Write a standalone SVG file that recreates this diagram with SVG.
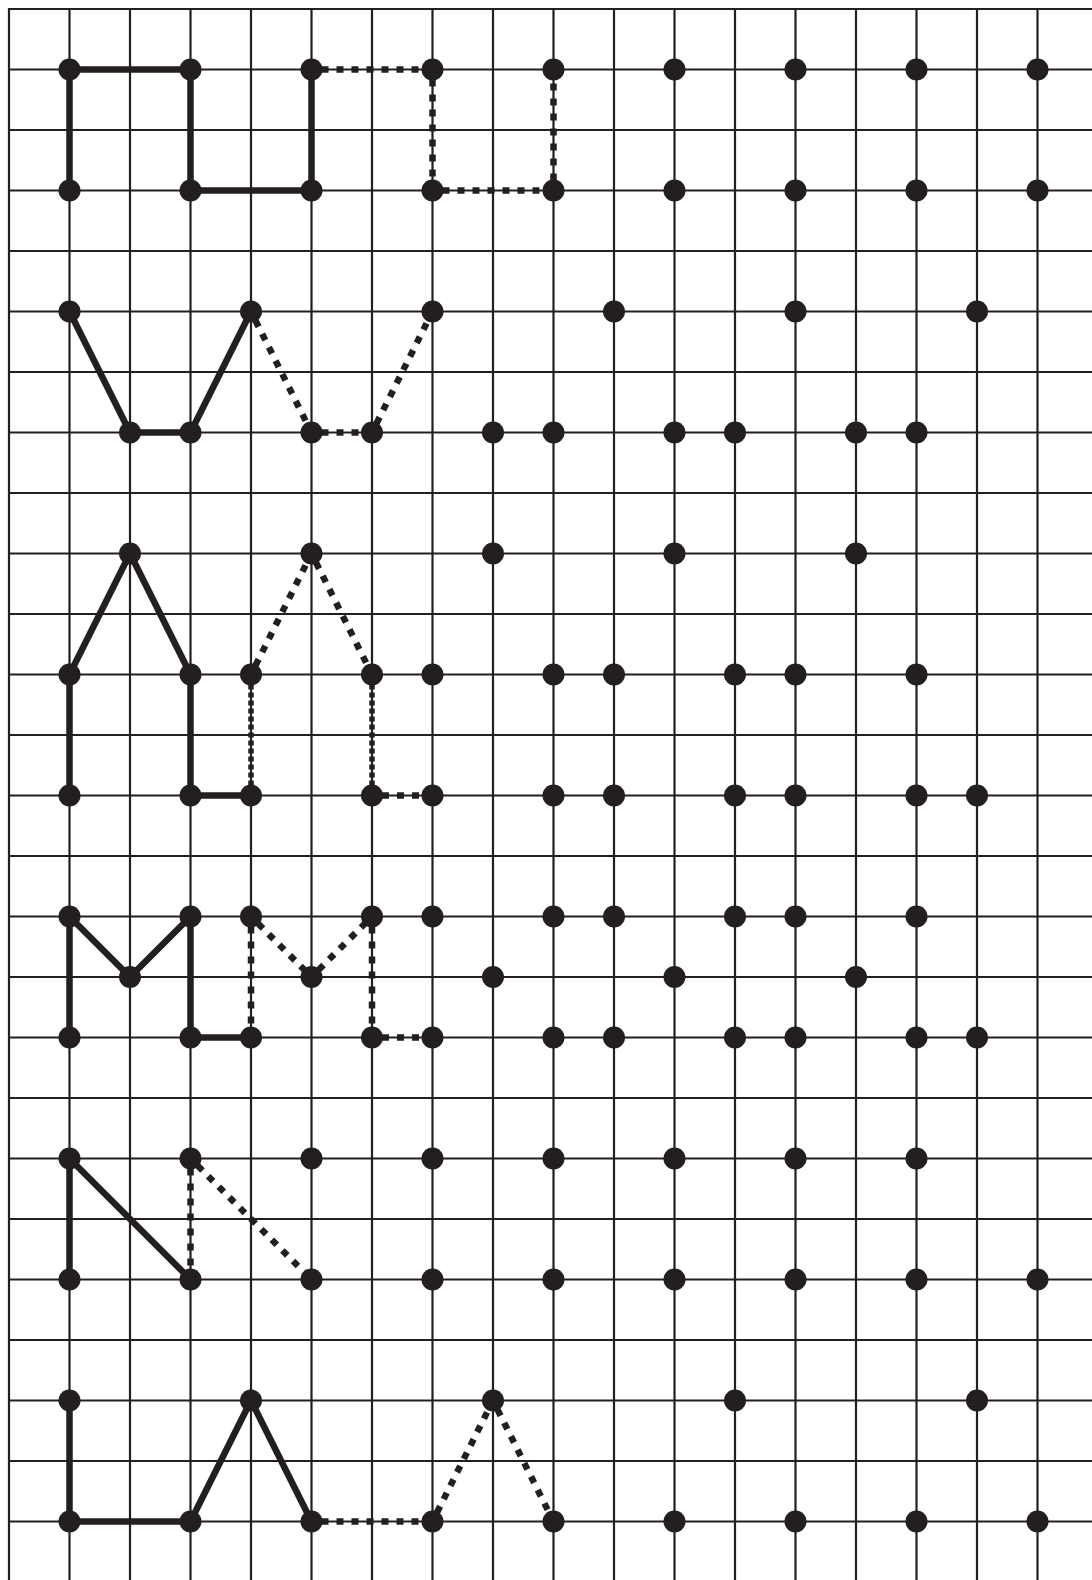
<svg xmlns="http://www.w3.org/2000/svg" width="1092" height="1580" viewBox="0 0 1092 1580">
<style>
.grid{stroke:#231f20;stroke-width:2.2;fill:none}
.solid{stroke:#231f20;stroke-width:6.5;fill:none;stroke-linecap:round;stroke-linejoin:round}
.dash{stroke:#231f20;stroke-width:6.5;fill:none;stroke-dasharray:7 8;stroke-dashoffset:-10}
.dashv{stroke:#231f20;stroke-width:5.5;fill:none;stroke-dasharray:5 3;stroke-dashoffset:-10}
.dot{fill:#231f20}
</style>
<rect width="1092" height="1580" fill="#ffffff"/>
<g id="grid" class="grid">
<path d="M9,8V1580M69.5,8V1580M130,8V1580M190.5,8V1580M251,8V1580M311.5,8V1580M372,8V1580M432.5,8V1580M493,8V1580M553.5,8V1580M614,8V1580M674.5,8V1580M735,8V1580M795.5,8V1580M856,8V1580M916.5,8V1580M977,8V1580M1037.5,8V1580"/>
<path d="M8,9H1092M8,69.5H1092M8,130H1092M8,190.5H1092M8,251H1092M8,311.5H1092M8,372H1092M8,432.5H1092M8,493H1092M8,553.5H1092M8,614H1092M8,674.5H1092M8,735H1092M8,795.5H1092M8,856H1092M8,916.5H1092M8,977H1092M8,1037.5H1092M8,1098H1092M8,1158.5H1092M8,1219H1092M8,1279.5H1092M8,1340H1092M8,1400.5H1092M8,1461H1092M8,1521.5H1092"/>
</g>
<g id="connectors">
<path class="solid" d="M69.5,190.5V69.5H190.5V190.5H311.5V69.5"/>
<path class="dash" d="M311.5,69.5H432.5"/>
<path class="dash" d="M432.5,69.5V190.5"/>
<path class="dash" d="M432.5,190.5H553.5"/>
<path class="dash" d="M553.5,190.5V69.5"/>
<path class="solid" d="M69.5,311.5L130,432.5H190.5L251,311.5"/>
<path class="dash" d="M251,311.5L311.5,432.5"/>
<path class="dash" d="M311.5,432.5H372"/>
<path class="dash" d="M372,432.5L432.5,311.5"/>
<path class="solid" d="M69.5,795.5V674.5L130,553.5L190.5,674.5V795.5H251"/>
<path class="dash" d="M251,674.5L311.5,553.5"/>
<path class="dash" d="M311.5,553.5L372,674.5"/>
<path class="dashv" d="M251,674.5V795.5"/>
<path class="dashv" d="M372,674.5V795.5"/>
<path class="dash" d="M372,795.5H432.5"/>
<path class="solid" d="M69.5,1037.5V916.5L130,977L190.5,916.5V1037.5H251"/>
<path class="dash" d="M251,916.5V1037.5"/>
<path class="dash" d="M251,916.5L311.5,977"/>
<path class="dash" d="M311.5,977L372,916.5"/>
<path class="dash" d="M372,916.5V1037.5"/>
<path class="dash" d="M372,1037.5H432.5"/>
<path class="solid" d="M69.5,1279.5V1158.5L190.5,1279.5"/>
<path class="dash" d="M190.5,1158.5V1279.5"/>
<path class="dash" d="M190.5,1158.5L311.5,1279.5"/>
<path class="solid" d="M69.5,1400.5V1521.5H190.5L251,1400.5L311.5,1521.5"/>
<path class="dash" d="M311.5,1521.5H432.5"/>
<path class="dash" d="M432.5,1521.5L493,1400.5"/>
<path class="dash" d="M493,1400.5L553.5,1521.5"/>
</g>
<g id="dots" class="dot">
<g id="row1">
<circle cx="69.5" cy="69.5" r="11"/><circle cx="190.5" cy="69.5" r="11"/><circle cx="311.5" cy="69.5" r="11"/><circle cx="432.5" cy="69.5" r="11"/><circle cx="553.5" cy="69.5" r="11"/><circle cx="674.5" cy="69.5" r="11"/><circle cx="795.5" cy="69.5" r="11"/><circle cx="916.5" cy="69.5" r="11"/><circle cx="1037.5" cy="69.5" r="11"/>
</g>
<g id="row3">
<circle cx="69.5" cy="190.5" r="11"/><circle cx="190.5" cy="190.5" r="11"/><circle cx="311.5" cy="190.5" r="11"/><circle cx="432.5" cy="190.5" r="11"/><circle cx="553.5" cy="190.5" r="11"/><circle cx="674.5" cy="190.5" r="11"/><circle cx="795.5" cy="190.5" r="11"/><circle cx="916.5" cy="190.5" r="11"/><circle cx="1037.5" cy="190.5" r="11"/>
</g>
<g id="row5">
<circle cx="69.5" cy="311.5" r="11"/><circle cx="251" cy="311.5" r="11"/><circle cx="432.5" cy="311.5" r="11"/><circle cx="614" cy="311.5" r="11"/><circle cx="795.5" cy="311.5" r="11"/><circle cx="977" cy="311.5" r="11"/>
</g>
<g id="row7">
<circle cx="130" cy="432.5" r="11"/><circle cx="190.5" cy="432.5" r="11"/><circle cx="311.5" cy="432.5" r="11"/><circle cx="372" cy="432.5" r="11"/><circle cx="493" cy="432.5" r="11"/><circle cx="553.5" cy="432.5" r="11"/><circle cx="674.5" cy="432.5" r="11"/><circle cx="735" cy="432.5" r="11"/><circle cx="856" cy="432.5" r="11"/><circle cx="916.5" cy="432.5" r="11"/>
</g>
<g id="row9">
<circle cx="130" cy="553.5" r="11"/><circle cx="311.5" cy="553.5" r="11"/><circle cx="493" cy="553.5" r="11"/><circle cx="674.5" cy="553.5" r="11"/><circle cx="856" cy="553.5" r="11"/>
</g>
<g id="row11">
<circle cx="69.5" cy="674.5" r="11"/><circle cx="190.5" cy="674.5" r="11"/><circle cx="251" cy="674.5" r="11"/><circle cx="372" cy="674.5" r="11"/><circle cx="432.5" cy="674.5" r="11"/><circle cx="553.5" cy="674.5" r="11"/><circle cx="614" cy="674.5" r="11"/><circle cx="735" cy="674.5" r="11"/><circle cx="795.5" cy="674.5" r="11"/><circle cx="916.5" cy="674.5" r="11"/>
</g>
<g id="row13">
<circle cx="69.5" cy="795.5" r="11"/><circle cx="190.5" cy="795.5" r="11"/><circle cx="251" cy="795.5" r="11"/><circle cx="372" cy="795.5" r="11"/><circle cx="432.5" cy="795.5" r="11"/><circle cx="553.5" cy="795.5" r="11"/><circle cx="614" cy="795.5" r="11"/><circle cx="735" cy="795.5" r="11"/><circle cx="795.5" cy="795.5" r="11"/><circle cx="916.5" cy="795.5" r="11"/><circle cx="977" cy="795.5" r="11"/>
</g>
<g id="row15">
<circle cx="69.5" cy="916.5" r="11"/><circle cx="190.5" cy="916.5" r="11"/><circle cx="251" cy="916.5" r="11"/><circle cx="372" cy="916.5" r="11"/><circle cx="432.5" cy="916.5" r="11"/><circle cx="553.5" cy="916.5" r="11"/><circle cx="614" cy="916.5" r="11"/><circle cx="735" cy="916.5" r="11"/><circle cx="795.5" cy="916.5" r="11"/><circle cx="916.5" cy="916.5" r="11"/>
</g>
<g id="row16">
<circle cx="130" cy="977" r="11"/><circle cx="311.5" cy="977" r="11"/><circle cx="493" cy="977" r="11"/><circle cx="674.5" cy="977" r="11"/><circle cx="856" cy="977" r="11"/>
</g>
<g id="row17">
<circle cx="69.5" cy="1037.5" r="11"/><circle cx="190.5" cy="1037.5" r="11"/><circle cx="251" cy="1037.5" r="11"/><circle cx="372" cy="1037.5" r="11"/><circle cx="432.5" cy="1037.5" r="11"/><circle cx="553.5" cy="1037.5" r="11"/><circle cx="614" cy="1037.5" r="11"/><circle cx="735" cy="1037.5" r="11"/><circle cx="795.5" cy="1037.5" r="11"/><circle cx="916.5" cy="1037.5" r="11"/><circle cx="977" cy="1037.5" r="11"/>
</g>
<g id="row19">
<circle cx="69.5" cy="1158.5" r="11"/><circle cx="190.5" cy="1158.5" r="11"/><circle cx="311.5" cy="1158.5" r="11"/><circle cx="432.5" cy="1158.5" r="11"/><circle cx="553.5" cy="1158.5" r="11"/><circle cx="674.5" cy="1158.5" r="11"/><circle cx="795.5" cy="1158.5" r="11"/><circle cx="916.5" cy="1158.5" r="11"/>
</g>
<g id="row21">
<circle cx="69.5" cy="1279.5" r="11"/><circle cx="190.5" cy="1279.5" r="11"/><circle cx="311.5" cy="1279.5" r="11"/><circle cx="432.5" cy="1279.5" r="11"/><circle cx="553.5" cy="1279.5" r="11"/><circle cx="674.5" cy="1279.5" r="11"/><circle cx="795.5" cy="1279.5" r="11"/><circle cx="916.5" cy="1279.5" r="11"/><circle cx="1037.5" cy="1279.5" r="11"/>
</g>
<g id="row23">
<circle cx="69.5" cy="1400.5" r="11"/><circle cx="251" cy="1400.5" r="11"/><circle cx="493" cy="1400.5" r="11"/><circle cx="735" cy="1400.5" r="11"/><circle cx="977" cy="1400.5" r="11"/>
</g>
<g id="row25">
<circle cx="69.5" cy="1521.5" r="11"/><circle cx="190.5" cy="1521.5" r="11"/><circle cx="311.5" cy="1521.5" r="11"/><circle cx="432.5" cy="1521.5" r="11"/><circle cx="553.5" cy="1521.5" r="11"/><circle cx="674.5" cy="1521.5" r="11"/><circle cx="795.5" cy="1521.5" r="11"/><circle cx="916.5" cy="1521.5" r="11"/><circle cx="1037.5" cy="1521.5" r="11"/>
</g>
</g>
</svg>
